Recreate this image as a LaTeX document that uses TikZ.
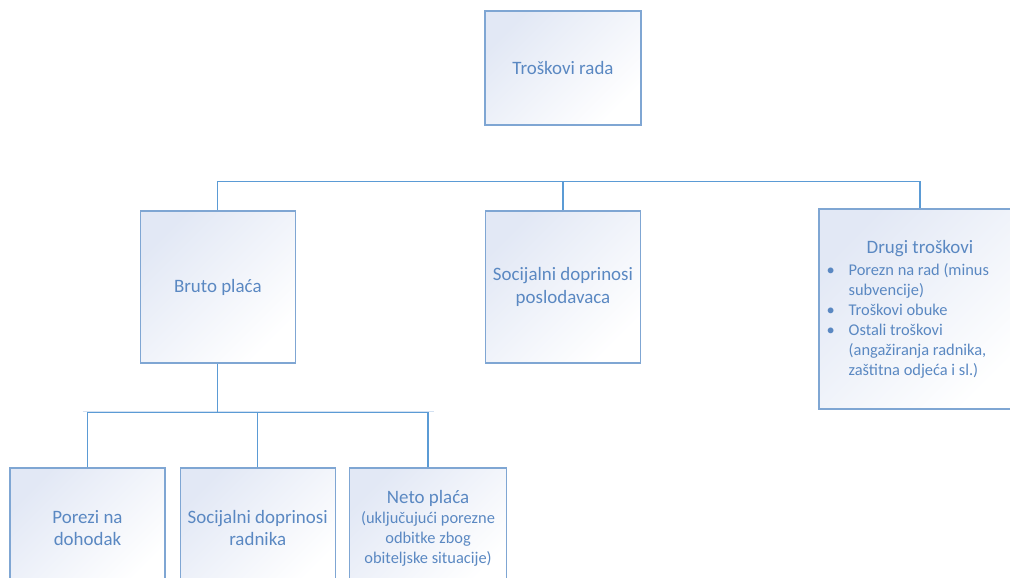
\documentclass[tikz,border=0pt]{standalone}
\usepackage{fontspec}
\setmainfont{Carlito}
\usetikzlibrary{positioning}
\definecolor{boxline}{HTML}{7FA6D3}
\definecolor{boxtext}{HTML}{5A88C2}
\definecolor{boxshade}{HTML}{E2E8F5}
\definecolor{linkline}{HTML}{5B9BD5}
\definecolor{linkfaint}{HTML}{D3E1F2}
\newcommand{\listbullet}{\makebox[16.5pt][l]{\textbullet}}
\newcommand{\listindent}{\hspace*{16.5pt}}

\begin{document}
\begin{tikzpicture}[x=0.75pt, y=-0.75pt,
  box/.style={draw=boxline, line width=0.9pt, top color=boxshade, bottom color=white,
              shading angle=45, text=boxtext, align=center, inner sep=3pt,
              font=\fontsize{14.2}{17}\selectfont},
  midbox/.style={box, minimum width=116.25pt, minimum height=114pt},
  lowbox/.style={box, minimum width=116.25pt, minimum height=90pt},
  link/.style={draw=linkline, line width=0.9pt},
  faint/.style={draw=linkfaint, line width=0.9pt},
]
  \useasboundingbox (0,0) rectangle (1010,578);

  \node[box, minimum width=117pt, minimum height=85.5pt] (rada) at (563,68) {Troškovi rada};

  \node[midbox] (poslodavci) at (563,287) {Socijalni doprinosi\\poslodavaca};
  \node[midbox, left=141.75pt of poslodavci] (bruto) {Bruto plaća};
  \node[box, minimum width=151.5pt, minimum height=150pt, text width=140pt, align=flush left,
        font=\fontsize{12.3}{15}\selectfont] (drugi) at (920,309)
    {\makebox[140pt]{\fontsize{14.2}{15}\selectfont Drugi troškovi}\\[1.5pt]
     \listbullet Porezn na rad (minus\\
     \listindent subvencije)\\
     \listbullet Troškovi obuke\\
     \listbullet Ostali troškovi\\
     \listindent (angažiranja radnika,\\
     \listindent zaštitna odjeća i sl.)};

  \node[lowbox] (porezi) at (87.5,528) {Porezi na\\dohodak};
  \node[lowbox, right=10.5pt of porezi] (radnika) {Socijalni doprinosi\\radnika};
  \node[lowbox, right=9.75pt of radnika, text width=112pt, align=flush center,
        font=\fontsize{14.2}{15}\selectfont] (neto)
    {Neto plaća\\ \fontsize{12.3}{15}\selectfont (uključujući porezne\\ odbitke zbog\\ obiteljske situacije)};

  % upper branch
  \path (bruto.north) ++(0,-29) coordinate (topbus);
  \draw[link] (bruto.north) -- (topbus) -| (drugi.north);
  \draw[link] (poslodavci.north) -- (poslodavci.north |- topbus);

  % lower branch
  \path (bruto.south) ++(0,49) coordinate (lowbus);
  \path (porezi.north |- lowbus) ++(-5,-1) coordinate (faintleft);
  \path (neto.north |- lowbus) ++(6,-1) coordinate (faintright);
  \draw[faint] (faintleft) -- (faintright);
  \draw[link] (bruto.south) -- (lowbus);
  \draw[link] (porezi.north) -- (porezi.north |- lowbus) -- (neto.north |- lowbus) -- (neto.north);
  \draw[link] (radnika.north) -- (radnika.north |- lowbus);
\end{tikzpicture}
\end{document}
